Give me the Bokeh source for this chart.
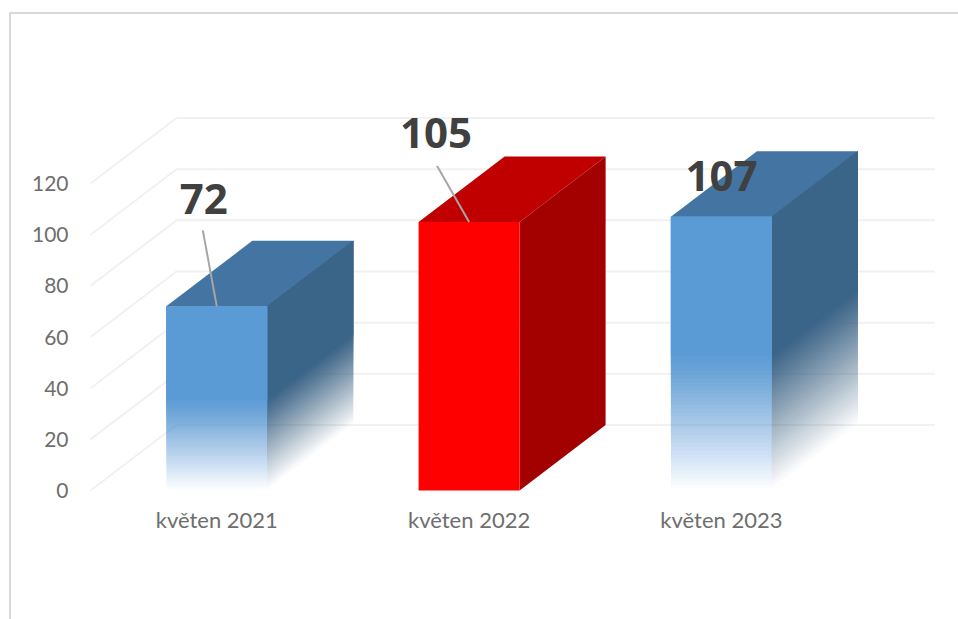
from bokeh.plotting import figure
from bokeh.embed import file_html
from bokeh.resources import INLINE
from bokeh.models import Range1d, FixedTicker, ColumnDataSource
from bokeh.core.properties import value

categories = ["květen 2021", "květen 2022", "květen 2023"]
values = [72, 105, 107]
y_ticks = [0, 20, 40, 60, 80, 100, 120]
front_colors = ["#5B9BD5", "#FF0000", "#5B9BD5"]
side_colors = ["#3A6488", "#A30000", "#3A6488"]
top_colors = ["#4474A1", "#C00000", "#4474A1"]
fades = [True, False, True]

W, H = 958, 619
FL, FR, FT, FB = 88, 937, 100, 492       # frame edges in page pixels
PX_X = 252.3                             # pixels per category
PX_Y = 2.558                             # pixels per value unit
CX0 = 216.3                              # page x of first category
Y0 = 490.0                               # page y of value 0
DX = 86.0 / PX_X                         # depth in category units
DY = 65.5 / PX_Y                         # depth in value units
BW = 101.0 / PX_X

frame_css = ("linear-gradient(#D9D9D9,#D9D9D9) 8.5px 11.5px / 2px 100% no-repeat,"
             "linear-gradient(#D9D9D9,#D9D9D9) 8.5px 11.5px / 100% 2px no-repeat,"
             "white")

p = figure(width=W, height=H, output_backend="svg", toolbar_location=None,
           x_range=Range1d((FL - CX0) / PX_X, (FR - CX0) / PX_X),
           y_range=Range1d((Y0 - FB) / PX_Y, (Y0 - FT) / PX_Y),
           min_border_left=FL, min_border_right=W - FR,
           min_border_top=FT, min_border_bottom=H - FB,
           styles={"background": frame_css})
p.outline_line_color = None
p.background_fill_color = None
p.border_fill_color = None
p.grid.visible = False

ya = p.yaxis[0]
ya.ticker = FixedTicker(ticks=y_ticks)
ya.axis_line_color = None
ya.major_tick_line_color = None
ya.minor_tick_line_color = None
ya.major_label_standoff = 14
ya.major_label_text_font = "Lato"
ya.major_label_text_font_size = "21px"
ya.major_label_text_color = "#6E6E6E"

xa = p.xaxis[0]
xa.ticker = FixedTicker(ticks=list(range(len(categories))))
xa.major_label_overrides = {i: c for i, c in enumerate(categories)}
xa.axis_line_color = None
xa.major_tick_line_color = None
xa.minor_tick_line_color = None
xa.major_label_standoff = 7
xa.major_label_text_font = "Lato"
xa.major_label_text_font_size = "22px"
xa.major_label_text_color = "#6E6E6E"

# gridlines: floor-to-wall diagonal plus back-wall horizontal
left = (90 - CX0) / PX_X
right = (934.5 - CX0) / PX_X
for t in y_ticks:
    p.line([left, left + DX, right], [t, t + DY, t + DY], line_color="#F1F1F1", line_width=2)

N = 36
FADE = 0.5

def layers(x0, x1, y_bottom_left, y_bottom_right, height):
    """Stacked translucent layers: each starts higher up the face, so alpha builds upward."""
    xs, ys, alphas = [], [], []
    prev = 0.0
    for k in range(1, N + 1):
        target = k / N
        a = 1 - (1 - target) / (1 - prev) if prev < 1 else 1
        v = (k - 0.5) / N * FADE * height
        xs.append([x0, x1, x1, x0])
        ys.append([y_bottom_left + v, y_bottom_right + v,
                   y_bottom_right + height, y_bottom_left + height])
        alphas.append(a)
        prev = target
    return xs, ys, alphas

for i, (val, fc, sc, tc, fade) in enumerate(zip(values, front_colors, side_colors, top_colors, fades)):
    l, r = i - BW / 2, i + BW / 2
    # top face
    p.patch([l, r, r + DX, l + DX], [val, val, val + DY, val + DY], fill_color=tc, line_color=None)
    if fade:
        xs, ys, al = layers(r, r + DX, 0, DY, val)
        p.patches(xs, ys, fill_color=sc, fill_alpha=al, line_color=None)
        xs, ys, al = layers(l, r, 0, 0, val)
        p.patches(xs, ys, fill_color=fc, fill_alpha=al, line_color=None)
    else:
        p.patch([r, r + DX, r + DX, r], [0, DY, val + DY, val], fill_color=sc, line_color=None)
        p.patch([l, r, r, l], [0, 0, val, val], fill_color=fc, line_color=None)

# data labels and leader lines
label_dx = [-13, -33, 0]     # pixels from bar centre
label_dy = [107, 89, 41]     # pixels above bar top
leader_top = [76, 56, None]  # pixels above bar top where leader ends
leader_dx = [-14, -32, 0]

for i, val in enumerate(values):
    if leader_top[i] is not None:
        p.line([i + leader_dx[i] / PX_X, i], [val + leader_top[i] / PX_Y, val],
               line_color="#A6A6A6", line_width=2)

src = ColumnDataSource(dict(
    x=[i + d / PX_X for i, d in enumerate(label_dx)],
    y=[v + d / PX_Y for v, d in zip(values, label_dy)],
    t=[str(v) for v in values]))
p.text("x", "y", text="t", source=src, text_font=value("Open Sans"), text_font_style="bold",
       text_font_size="42px", text_color="#404040", text_align="center", text_baseline="middle")

open("out.html", "w").write(file_html(p, INLINE))
